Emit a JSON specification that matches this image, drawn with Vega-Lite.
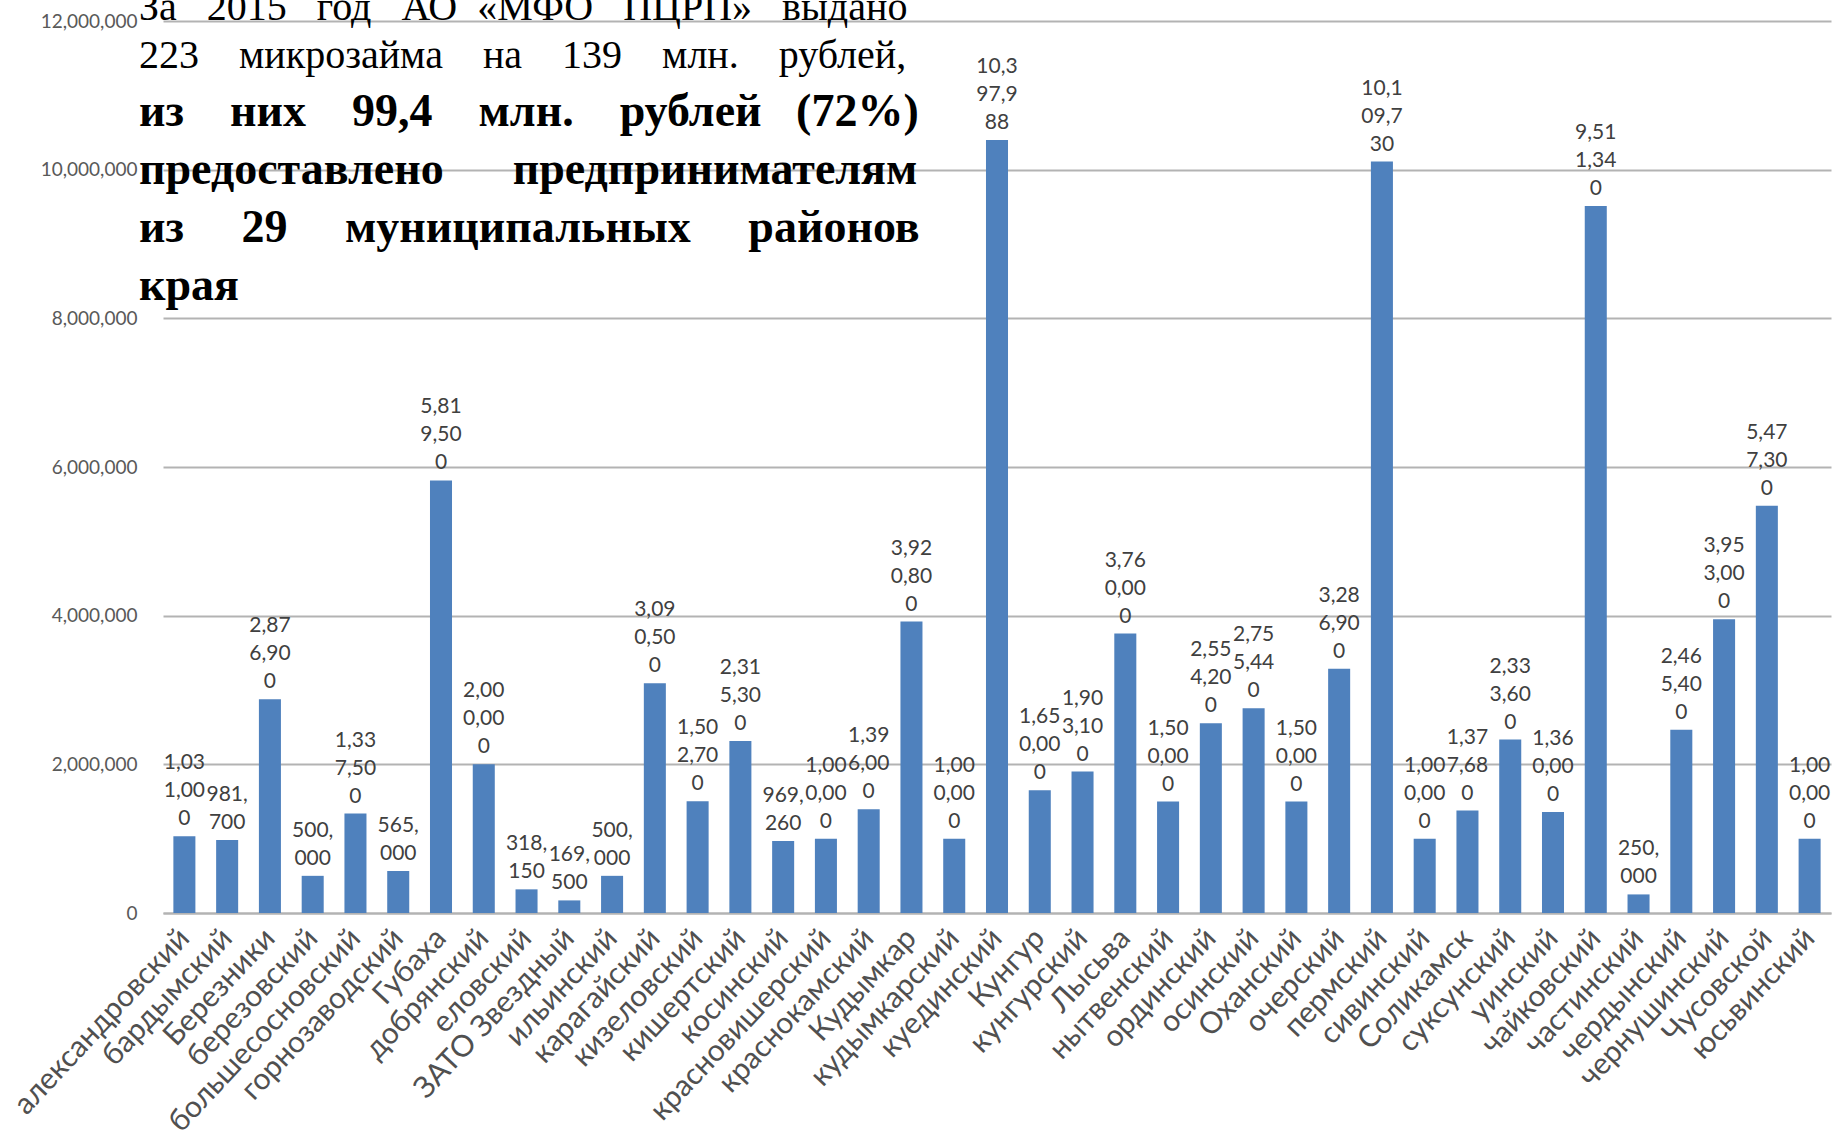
{
  "$schema": "https://vega.github.io/schema/vega-lite/v6.json",
  "width": 1668,
  "height": 892,
  "autosize": {"type": "none"},
  "padding": {"left": 163, "top": 21, "right": 12, "bottom": 230},
  "background": "white",
  "config": {"view": {"stroke": null}},
  "title": {
    "text": ["За\u00a0\u00a0\u00a02015\u00a0\u00a0\u00a0год\u00a0\u00a0\u00a0АО\u00a0\u00a0«МФО\u00a0\u00a0\u00a0ПЦРП»\u00a0\u00a0\u00a0выдано", "223\u00a0\u00a0\u00a0\u00a0микрозайма\u00a0\u00a0\u00a0\u00a0на\u00a0\u00a0\u00a0\u00a0139\u00a0\u00a0\u00a0\u00a0млн.\u00a0\u00a0\u00a0\u00a0рублей,"],
    "subtitle": ["из\u00a0\u00a0\u00a0\u00a0них\u00a0\u00a0\u00a0\u00a099,4\u00a0\u00a0\u00a0\u00a0млн.\u00a0\u00a0\u00a0\u00a0рублей\u00a0\u00a0\u00a0(72%)", "предоставлено\u00a0\u00a0\u00a0\u00a0\u00a0\u00a0предпринимателям", "из\u00a0\u00a0\u00a0\u00a0\u00a029\u00a0\u00a0\u00a0\u00a0\u00a0муниципальных\u00a0\u00a0\u00a0\u00a0\u00a0районов", "края"],
    "orient": "top",
    "anchor": "start",
    "frame": "group",
    "font": "Liberation Serif",
    "fontSize": 40,
    "fontWeight": "normal",
    "color": "#000000",
    "lineHeight": 48,
    "subtitleFont": "Liberation Serif",
    "subtitleFontSize": 46,
    "subtitleFontWeight": "bold",
    "subtitleColor": "#000000",
    "subtitleLineHeight": 58,
    "subtitlePadding": 14,
    "offset": 0,
    "dx": -24,
    "dy": 297
  },
  "data": {
    "values": [
      {"district": "александровский", "amount": 1031000},
      {"district": "бардымский", "amount": 981700},
      {"district": "Березники", "amount": 2876900},
      {"district": "березовский", "amount": 500000},
      {"district": "большесосновский", "amount": 1337500},
      {"district": "горнозаводский", "amount": 565000},
      {"district": "Губаха", "amount": 5819500},
      {"district": "добрянский", "amount": 2000000},
      {"district": "еловский", "amount": 318150},
      {"district": "ЗАТО Звездный", "amount": 169500},
      {"district": "ильинский", "amount": 500000},
      {"district": "карагайский", "amount": 3090500},
      {"district": "кизеловский", "amount": 1502700},
      {"district": "кишертский", "amount": 2315300},
      {"district": "косинский", "amount": 969260},
      {"district": "красновишерский", "amount": 1000000},
      {"district": "краснокамский", "amount": 1396000},
      {"district": "Кудымкар", "amount": 3920800},
      {"district": "кудымкарский", "amount": 1000000},
      {"district": "куединский", "amount": 10397988},
      {"district": "Кунгур", "amount": 1650000},
      {"district": "кунгурский", "amount": 1903100},
      {"district": "Лысьва", "amount": 3760000},
      {"district": "нытвенский", "amount": 1500000},
      {"district": "ординский", "amount": 2554200},
      {"district": "осинский", "amount": 2755440},
      {"district": "Оханский", "amount": 1500000},
      {"district": "очерский", "amount": 3286900},
      {"district": "пермский", "amount": 10109730},
      {"district": "сивинский", "amount": 1000000},
      {"district": "Соликамск", "amount": 1377680},
      {"district": "суксунский", "amount": 2333600},
      {"district": "уинский", "amount": 1360000},
      {"district": "чайковский", "amount": 9511340},
      {"district": "частинский", "amount": 250000},
      {"district": "чердынский", "amount": 2465400},
      {"district": "чернушинский", "amount": 3953000},
      {"district": "Чусовской", "amount": 5477300},
      {"district": "юсьвинский", "amount": 1000000}
    ]
  },
  "encoding": {
    "x": {
      "field": "district",
      "type": "nominal",
      "sort": null,
      "scale": {"paddingInner": 0.485, "paddingOuter": 0.2425},
      "axis": {
        "title": null,
        "labelAngle": -47,
        "labelAlign": "right",
        "labelBaseline": "middle",
        "labelFont": "Lato",
        "labelFontSize": 30,
        "labelColor": "#505050",
        "labelLimit": 500,
        "labelOverlap": false,
        "labelBound": false,
        "labelPadding": 20,
        "ticks": false,
        "domainColor": "#b3b3b3",
        "domainWidth": 2,
        "grid": false
      }
    },
    "y": {
      "field": "amount",
      "type": "quantitative",
      "scale": {"domain": [0, 12000000], "nice": false},
      "axis": {
        "title": null,
        "values": [0, 2000000, 4000000, 6000000, 8000000, 10000000, 12000000],
        "format": ",d",
        "labelFont": "Lato",
        "labelFontSize": 19,
        "labelColor": "#595959",
        "labelPadding": 26,
        "domain": false,
        "ticks": false,
        "gridColor": "#b3b3b3",
        "gridWidth": 2
      }
    }
  },
  "layer": [
    {"mark": {"type": "bar", "color": "#4F81BD"}},
    {
      "mark": {
        "type": "text",
        "baseline": "bottom",
        "align": "center",
        "dy": {"expr": "length(format(datum.amount, ',')) > 8 ? -63 : -35"},
        "font": "Lato",
        "fontSize": 21,
        "lineHeight": 28,
        "color": "#404040",
        "text": {"expr": "length(format(datum.amount, ',')) > 8 ? [substring(format(datum.amount, ','), 0, 4), substring(format(datum.amount, ','), 4, 8), substring(format(datum.amount, ','), 8)] : [substring(format(datum.amount, ','), 0, 4), substring(format(datum.amount, ','), 4)]"}
      }
    }
  ]
}
